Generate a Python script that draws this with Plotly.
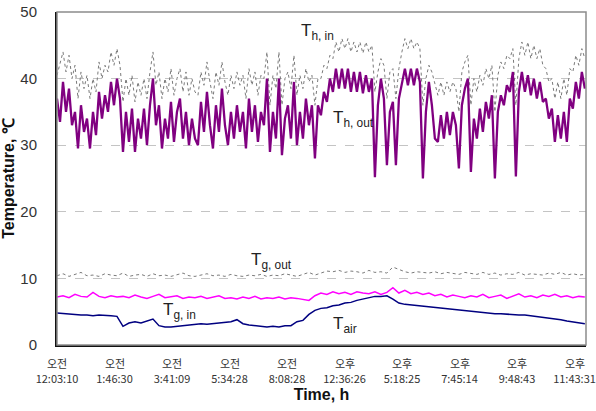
import numpy as np
import plotly.graph_objects as go

# ---------------- data ----------------
tick_pos = [0, 100, 200, 300, 400, 500, 600, 700, 800, 900]
tick_ampm = ["오전", "오전", "오전", "오전", "오전", "오후", "오후", "오후", "오후", "오후"]
tick_time = ["12:03:10", "1:46:30", "3:41:09", "5:34:28", "8:08:28", "12:36:26",
             "5:18:25", "7:45:14", "9:48:43", "11:43:31"]
x_end = 918

th_out = [37, 33.5, 39.5, 35, 38.5, 33, 35, 29.5, 36, 32, 34, 29.5, 35, 31.5, 38,
          34, 37.5, 35, 39.5, 36, 40, 37, 29, 35, 30.5, 35.5, 29, 34, 31, 35.5, 30, 36,
          40, 33, 36, 29.5, 34, 31, 36.5, 30.5, 35, 37, 31, 35, 30, 34, 31, 30, 36.5, 32,
          38, 33, 29.5, 36, 32, 38.5, 33, 30, 35, 31, 36, 32, 35, 29.5, 37, 32, 36, 30.5,
          35, 33, 40, 29, 35, 31, 40, 28.5, 34, 36, 31, 39.5, 30, 35, 31, 37, 33, 36, 28,
          36, 34.5, 38, 36.5, 40, 38, 41.5, 38.5, 41.5, 38.5, 41.5, 38, 41, 38, 41, 37.8,
          40.5, 38, 40, 25.2, 36, 40, 37, 27, 35, 36.5, 27, 37, 39.5, 41.5, 39, 41.5, 39,
          41.5, 39.5, 25, 35, 39.5, 36, 31, 30.5, 34.5, 31, 35, 31.5, 35, 33, 26.5, 36,
          38.5, 40, 26, 34, 31, 35.5, 32, 36.5, 34, 37.5, 25, 35, 37.5, 36, 39, 38, 41,
          25.3, 38, 41, 38, 40.5, 37.5, 40, 37, 39.5, 36.5, 37, 34, 35.5, 30.5, 34.5, 31,
          35, 30.5, 37, 35.5, 39.5, 37, 41, 38.5]

th_in = [40.5, 42.5, 44, 41, 43.5, 40, 42, 37, 41, 38.5, 40.5, 37, 40, 38, 42.5,
         40, 42, 41, 44, 42, 44.5, 42, 36.5, 40, 37.5, 40.5, 36.5, 39.5, 37.5, 40, 37, 41,
         44, 39, 41, 37, 40, 38, 41.5, 37.5, 40, 41.5, 38, 41, 37.5, 40, 38, 37.5, 41, 39,
         42.5, 39.5, 37, 41, 39, 42.5, 39.5, 37.5, 40.5, 38.5, 41, 39, 40.5, 37, 41.5, 39,
         41, 37.5, 40.5, 40, 44, 36, 40.5, 38.5, 44, 36, 40, 41, 38.5, 43.5, 37.5, 40.5,
         38.5, 41.5, 39.5, 40.5, 36, 40, 40, 42, 41.5, 43.5, 43, 45.5, 44, 46, 44.5, 46,
         44, 45.5, 44, 45.5, 43.8, 45.5, 44, 45, 38, 41, 43, 42, 37, 41, 41.5, 37, 41.5,
         44, 46, 44.5, 46, 44.5, 45.5, 44.5, 36, 40, 42, 41, 39, 37.5, 39.5, 37.5, 39.5,
         38, 39.5, 38.5, 35, 41, 42.5, 43.5, 36, 40, 38, 40.5, 39, 41.5, 40, 42, 35, 40.5,
         42.5, 41.5, 43.5, 43, 44.5, 36, 43, 45.5, 43.5, 45.5, 43, 45, 43, 44.5, 42, 41.5,
         39.5, 40, 37, 39.5, 37, 40, 37.5, 41.5, 41, 43.5, 42, 44.5, 43]

tg_out = [10.4, 10.7, 10.3, 10.6, 10.9, 10.4, 10.5, 10.3, 10.7, 10.5, 10.4, 10.8, 10.3,
          10.5, 10.6, 10.3, 10.7, 10.4, 10.5, 10.3, 10.6, 10.8, 10.4, 10.3, 10.5, 10.7,
          10.4, 10.5, 10.3, 10.6, 10.4, 10.3, 10.5, 10.4, 10.6, 10.3, 10.5, 10.4, 10.7,
          10.5, 10.3, 10.6, 10.9, 10.5,
          10.8, 11.1, 11.0, 11.2, 10.9, 11.1, 11.0, 10.8, 11.2, 10.9, 11.0, 10.8, 11.7,
          11.3, 11.0, 10.8, 11.0, 10.9, 10.8, 11.0, 10.7, 10.9, 10.8, 10.6, 10.9, 10.7,
          10.6, 10.9, 10.6, 10.8, 10.5, 10.7, 10.6, 10.9, 10.5, 10.7, 10.6, 10.5, 10.8,
          10.6, 10.9, 10.5, 10.7, 10.5, 10.6]

tg_in = [7.2, 7.4, 7.1, 7.6, 7.3, 7.2, 7.9, 7.3, 7.1, 7.4, 7.2, 7.3, 7.1, 7.5, 7.2, 7.0,
         7.3, 7.6, 7.1, 7.2, 7.4, 7.0, 7.2, 7.1, 7.3, 7.0, 7.2, 7.4, 7.0, 7.1, 6.9, 7.2,
         7.0, 7.3, 6.9, 7.1, 7.0, 7.2, 6.9, 7.1, 7.0, 6.9, 6.7, 7.4,
         7.8, 7.6, 8.0, 7.7, 7.9, 7.6, 8.0, 7.8, 7.7, 8.0, 7.6, 7.9, 8.6, 7.8, 8.2, 7.7,
         7.9, 7.6, 7.8, 7.4, 7.6, 7.2, 7.5, 7.3, 7.1, 7.4, 7.2, 7.6, 7.1, 7.3, 7.5, 7.0,
         7.3, 7.7, 7.2, 7.4, 7.1, 7.5, 7.3, 7.6, 7.2, 7.4, 7.1, 7.3, 7.2]

t_air = [4.8, 4.7, 4.6, 4.6, 4.5, 4.5, 4.4, 4.5, 4.5, 4.4, 4.3, 2.8, 3.3, 3.5, 3.3, 3.6,
         3.9, 2.9, 2.7, 2.7, 2.8, 3.0, 3.1, 3.1, 3.2, 3.1, 3.2, 3.2, 3.3, 3.5, 3.8, 3.2,
         3.0, 2.9, 2.8, 2.7, 2.8, 2.7, 2.9, 2.9, 3.5, 3.7, 4.6, 5.2,
         5.5, 5.6, 5.9, 6.0, 6.3, 6.4, 6.7, 6.9, 7.1, 7.3, 7.3, 7.4, 6.9, 6.3, 6.1, 6.0,
         5.9, 5.8, 5.7, 5.6, 5.6, 5.4, 5.3, 5.2, 5.1, 5.0, 4.9, 4.8, 4.8, 4.7, 4.7, 4.6,
         4.6, 4.5, 4.5, 4.4, 4.3, 4.2, 4.1, 3.9, 3.8, 3.6, 3.5, 3.3, 3.2]

y_ticks = [0, 10, 20, 30, 40, 50]


def xs(vals):
    return np.linspace(0, x_end, len(vals))


fig = go.Figure()
fig.add_trace(go.Scatter(x=xs(tg_out), y=tg_out, mode="lines",
                         line=dict(color="#7a7a7a", width=1, dash="dot")))
fig.add_trace(go.Scatter(x=xs(tg_in), y=tg_in, mode="lines",
                         line=dict(color="#ff00ff", width=1.5)))
fig.add_trace(go.Scatter(x=xs(t_air), y=t_air, mode="lines",
                         line=dict(color="#000080", width=1.5)))
fig.add_trace(go.Scatter(x=xs(th_in), y=th_in, mode="lines",
                         line=dict(color="#7a7a7a", width=1, dash="dot")))
fig.add_trace(go.Scatter(x=xs(th_out), y=th_out, mode="lines",
                         line=dict(color="#800080", width=2.3)))

ann_font = dict(family="Liberation Sans, Arial, sans-serif", size=17, color="#222")
labels = [("T<sub>h, in</sub>", 421, 47.0), ("T<sub>h, out</sub>", 476, 33.9),
          ("T<sub>g, out</sub>", 334, 12.6), ("T<sub>g, in</sub>", 181, 5.1),
          ("T<sub>air</sub>", 476, 3.0)]
for txt, ax_, ay_ in labels:
    fig.add_annotation(x=ax_, y=ay_, text=txt, showarrow=False, xanchor="left",
                       yanchor="middle", font=ann_font)

# upper line of the two-line time labels (오전 / 오후)
for pos, word in zip(tick_pos, tick_ampm):
    fig.add_annotation(x=pos, xref="x", y=0, yref="paper", yshift=-18, text=word,
                       showarrow=False, xanchor="center", yanchor="middle",
                       font=dict(family="Noto Sans CJK KR", size=11, color="#333"))

fig.add_shape(type="rect", xref="paper", yref="paper", x0=0, y0=0, x1=1, y1=1,
              line=dict(color="#8c8c8c", width=1.5), layer="above")

fig.update_layout(
    width=596, height=411,
    margin=dict(l=57, r=10, t=12, b=66),
    paper_bgcolor="white", plot_bgcolor="white",
    showlegend=False,
    font=dict(family="Liberation Sans, Arial, sans-serif", color="#222"),
    xaxis=dict(range=[0, 920], tickvals=tick_pos, ticktext=tick_time,
               showgrid=False, zeroline=False, showline=True, linecolor="#111",
               linewidth=2, ticks="", ticklabelstandoff=23, automargin=False,
               tickfont=dict(family="Noto Sans CJK KR", size=11, color="#333"),
               title=dict(text="<b>Time, h</b>", font=dict(size=16, color="#111"),
                          standoff=4)),
    yaxis=dict(range=[0, 50], tickvals=y_ticks, showgrid=True, gridcolor="#c4c4c4",
               griddash="dash", gridwidth=1, zeroline=False, showline=True,
               linecolor="#111", linewidth=2, ticks="", ticklabelstandoff=15,
               automargin=False,
               tickfont=dict(size=15, color="#333"),
               title=dict(text="<b>Temperature, ℃</b>", font=dict(size=16, color="#111"),
                          standoff=2)),
)

fig.write_html("out.html")
